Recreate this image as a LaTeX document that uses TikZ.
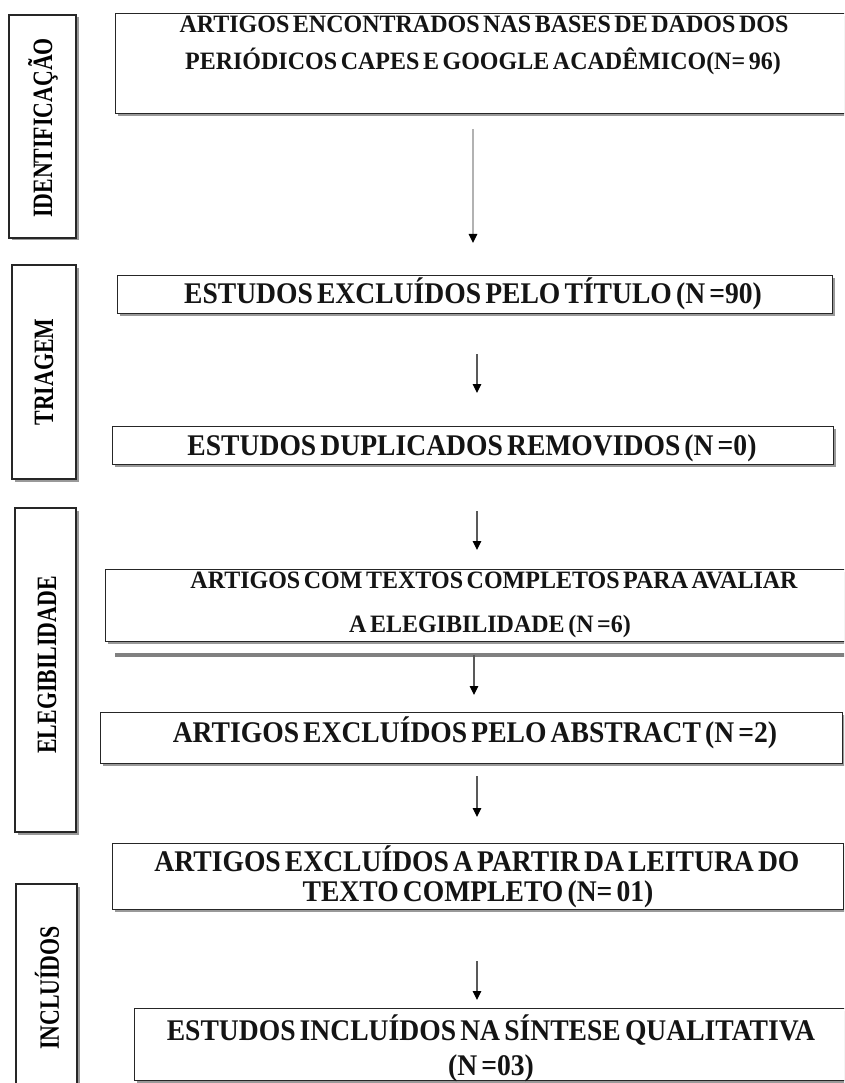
\documentclass[tikz,border=0pt]{standalone}
\usepackage{fontspec}
\setmainfont{Liberation Serif}[WordSpace={0.6}]
\usetikzlibrary{arrows.meta,shadows}
\newcommand\myfs[1]{\fontsize{#1}{#1}\selectfont\bfseries}
\newcommand\sidelab[1]{\scalebox{0.78}[1]{#1}}
\newcommand\cbig[1]{\scalebox{0.92}[1]{#1}}
\newcommand\cmid[1]{\scalebox{0.96}[1]{#1}}
\begin{document}
\begin{tikzpicture}[x=1pt,y=-1pt,
  box/.style={draw=black!85, line width=1.3pt, fill=white,
    drop shadow={shadow xshift=2.5pt, shadow yshift=-2.5pt, fill=black!40, opacity=1}},
  bigtxt/.style={font=\myfs{30}, anchor=base, inner sep=0pt, text=black!92},
  midtxt/.style={font=\myfs{25}, anchor=base, inner sep=0pt, text=black!92},
  sidetxt/.style={font=\myfs{28}, rotate=90, inner sep=0pt, text=black},
  arr/.style={line width=1.2pt, draw=black!65, -{Triangle[length=9pt,width=8.5pt,color=black]}},
  arrlight/.style={line width=1.3pt, draw=black!30, -{Triangle[length=9pt,width=8.5pt,color=black]}}
]
\useasboundingbox (0,0) rectangle (844,1083);
\clip (0,0) rectangle (844,1083);

% side boxes
\draw[box] (9,15) rectangle (76,238);
\node[sidetxt] (t1) at (43,128) {\sidelab{IDENTIFICAÇÃO}};
\draw[box] (12,265) rectangle (76,479);
\node[sidetxt] (t2) at (44,372) {\sidelab{TRIAGEM}};
\draw[box] (15,508) rectangle (76,832);
\node[sidetxt] (t3) at (47,665) {\sidelab{ELEGIBILIDADE}};
\draw[box] (16,884) rectangle (77,1100);
\node[sidetxt] (t4) at (47,988) {\sidelab{INCLUÍDOS}};

% main boxes
\node[box, anchor=north west, minimum width=735pt, minimum height=100pt, inner sep=0pt] (A) at (115,13) {};
\node[midtxt] (a1) at (484,33) {\cmid{ARTIGOS ENCONTRADOS NAS BASES DE DADOS DOS}};
\node[midtxt] (a2) at (483,70) {\cmid{PERIÓDICOS CAPES E GOOGLE ACADÊMICO(N= 96)}};

\node[box, anchor=north west, minimum width=715pt, minimum height=38pt, inner sep=0pt] (B) at (117,275) {};
\node[bigtxt] (b1) at (473,303) {\cbig{ESTUDOS EXCLUÍDOS PELO TÍTULO (N =90)}};

\node[box, anchor=north west, minimum width=721pt, minimum height=38pt, inner sep=0pt] (C) at (112,426) {};
\node[bigtxt] (c1) at (472,455) {\cbig{ESTUDOS DUPLICADOS REMOVIDOS (N =0)}};

\node[box, anchor=north west, minimum width=745pt, minimum height=72pt, inner sep=0pt] (D) at (105,569) {};
\node[midtxt] (d1) at (494,588) {\cmid{ARTIGOS COM TEXTOS COMPLETOS PARA AVALIAR}};
\node[midtxt] (d2) at (490,632) {\cmid{A ELEGIBILIDADE (N =6)}};

\coordinate (gl1) at (115,655);
\coordinate (gl2) at (850,655);
\draw[line width=3.2pt, draw=black!50] (gl1) -- (gl2);

\node[box, anchor=north west, minimum width=742pt, minimum height=51pt, inner sep=0pt] (E) at (100,712) {};
\node[bigtxt] (e1) at (475,742) {\cbig{ARTIGOS EXCLUÍDOS PELO ABSTRACT (N =2)}};

\node[box, anchor=north west, minimum width=731pt, minimum height=66pt, inner sep=0pt] (F) at (112,843) {};
\node[bigtxt] (f1) at (477,871) {\cbig{ARTIGOS EXCLUÍDOS A PARTIR DA LEITURA DO}};
\node[bigtxt] (f2) at (478,901) {\cbig{TEXTO COMPLETO (N= 01)}};

\node[box, anchor=north west, minimum width=716pt, minimum height=72pt, inner sep=0pt] (G) at (134,1008) {};
\node[bigtxt] (g1) at (491,1040) {\cbig{ESTUDOS INCLUÍDOS NA SÍNTESE QUALITATIVA}};
\node[bigtxt] (g2) at (491,1075) {\cbig{(N =03)}};

% arrows
\coordinate (x1) at (473,0);
\coordinate (x2) at (477,0);
\coordinate (x4) at (474,0);
\draw[arrlight, shorten <=15pt, shorten >=32pt] (x1 |- A.south) -- (x1 |- B.north);
\draw[arr, shorten <=40pt, shorten >=33pt] (x2 |- B.south) -- (x2 |- C.north);
\draw[arr, shorten <=46pt, shorten >=19pt] (x2 |- C.south) -- (x2 |- D.north);
\draw[arr, shorten >=17pt] (x4 |- gl1) -- (x4 |- E.north);
\draw[arr, shorten <=12pt, shorten >=26pt] (x2 |- E.south) -- (x2 |- F.north);
\draw[arr, shorten <=51pt, shorten >=8pt] (x2 |- F.south) -- (x2 |- G.north);
\end{tikzpicture}
\end{document}
